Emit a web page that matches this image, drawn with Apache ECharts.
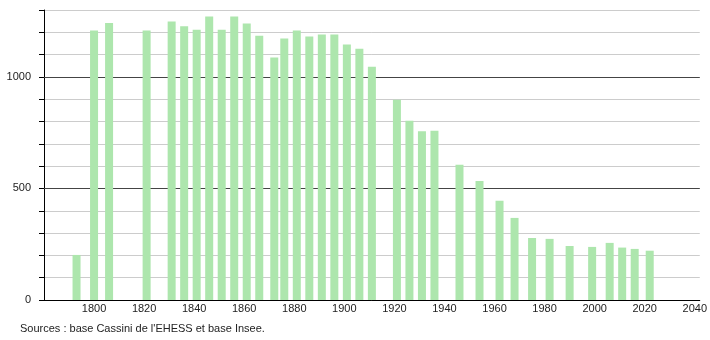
<!DOCTYPE html>
<html>
<head>
<meta charset="utf-8">
<script src="https://cdn.jsdelivr.net/npm/echarts@6/dist/echarts.min.js"></script>
<style>
html,body{margin:0;padding:0;background:#fff;}
#c{width:710px;height:340px;}
</style>
</head>
<body>
<div id="c"></div>
<script>
var years = [1793, 1800, 1806, 1821, 1831, 1836, 1841, 1846, 1851, 1856, 1861, 1866, 1872, 1876, 1881, 1886, 1891, 1896, 1901, 1906, 1911, 1921, 1926, 1931, 1936, 1946, 1954, 1962, 1968, 1975, 1982, 1990, 1999, 2006, 2011, 2016, 2022];
var population = [202, 1208, 1242, 1208, 1248, 1227, 1212, 1271, 1212, 1271, 1239, 1185, 1087, 1172, 1208, 1181, 1190, 1190, 1145, 1126, 1046, 898, 804, 756, 759, 606, 534, 445, 368, 278, 274, 242, 238, 256, 235, 229, 221];
var xTickLabels = [1800, 1820, 1840, 1860, 1880, 1900, 1920, 1940, 1960, 1980, 2000, 2020, 2040];
var yTickLabels = [0, 500, 1000];
var sourceText = "Sources : base Cassini de l'EHESS et base Insee.";

var font = "'Liberation Sans', Arial, sans-serif";
var data = years.map(function (y, i) { return [y, population[i]]; });

var chart = echarts.init(document.getElementById('c'), null, {renderer: 'canvas'});
chart.setOption({
  animation: false,
  backgroundColor: '#ffffff',
  grid: {left: 44, right: 10, top: 10, bottom: 40, containLabel: false},
  xAxis: {
    type: 'value',
    min: 1780,
    max: 2042,
    interval: 20,
    axisLine: {show: true, lineStyle: {color: '#000', width: 1}},
    axisTick: {show: false},
    splitLine: {show: false},
    axisLabel: {
      showMinLabel: false,
      showMaxLabel: false,
      color: '#222',
      fontFamily: font,
      fontSize: 11,
      margin: 3,
      formatter: function (v) { return xTickLabels.indexOf(v) >= 0 ? String(v) : ''; }
    }
  },
  yAxis: {
    type: 'value',
    min: 0,
    max: 1300,
    interval: 100,
    axisLine: {show: true, lineStyle: {color: '#000', width: 1}},
    axisTick: {show: true, length: 5, lineStyle: {color: '#000'}},
    splitLine: {show: true, lineStyle: {color: '#cccccc', width: 1}},
    axisLabel: {
      color: '#222',
      fontFamily: font,
      fontSize: 11,
      margin: 13,
      formatter: function (v) { return yTickLabels.indexOf(v) >= 0 ? String(v) : ''; }
    }
  },
  series: [{
    type: 'bar',
    data: data,
    barWidth: 8,
    itemStyle: {color: '#ade6ad'},
    silent: true,
    z: 2,
    markLine: {
      silent: true,
      symbol: ['none', 'none'],
      label: {show: false},
      lineStyle: {color: '#444', width: 1, type: 'solid'},
      data: [{yAxis: 500}, {yAxis: 1000}],
      z: 1
    }
  }],
  graphic: [{
    type: 'text',
    left: 20,
    top: 323,
    style: {text: sourceText, fill: '#222', font: '11px ' + font}
  }]
});
</script>
</body>
</html>
